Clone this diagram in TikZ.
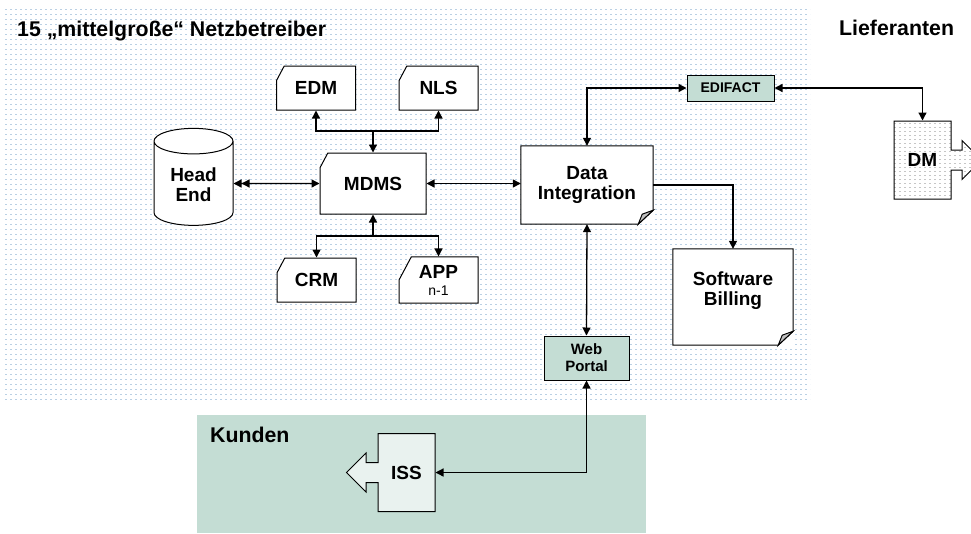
\documentclass[tikz,border=0pt]{standalone}
\usepackage{fontspec}
\setmainfont{Liberation Sans}
\usetikzlibrary{arrows.meta,shapes.geometric,shapes.misc,shapes.arrows}
\definecolor{kundengreen}{RGB}{196,221,212}
\definecolor{issfill}{RGB}{233,242,239}
\definecolor{dotblue}{RGB}{186,208,228}
\definecolor{foldgray}{RGB}{192,192,192}
\tikzset{
  ahead/.tip={Triangle[length=8pt,width=8pt]},
  bgdots/.style={dotblue, line width=0.55pt, dash pattern=on 2pt off 3pt},
  title/.style={anchor=base west, inner sep=0pt, font=\bfseries\fontsize{21.3}{25}\selectfont},
  boxline/.style={draw, line width=1pt},
  appbox/.style={chamfered rectangle, chamfered rectangle corners=north west,
    chamfered rectangle angle=28, chamfered rectangle xsep=15pt, chamfered rectangle ysep=8pt,
    boxline, fill=white, inner sep=0pt, align=center,
    minimum width=79pt, minimum height=44pt, font=\bfseries\fontsize{19}{20}\selectfont},
  cyl/.style={cylinder, shape border rotate=90, aspect=0.55, boxline, fill=white,
    inner sep=0pt, align=center, minimum width=79pt, minimum height=97pt,
    font=\bfseries\fontsize{19}{20}\selectfont},
  docbox/.style={fill=white, inner sep=0pt, align=center,
    font=\bfseries\fontsize{19}{20}\selectfont},
  tagbox/.style={boxline, fill=kundengreen, inner sep=0pt, align=center,
    font=\bfseries\fontsize{15}{17}\selectfont},
  outbox/.style={arrow box, boxline, inner sep=0pt, minimum width=57pt, minimum height=78pt,
    arrow box shaft width=20pt, arrow box head extend=9.5pt, arrow box tip angle=90,
    font=\bfseries\fontsize{19}{20}\selectfont},
  conn/.style={line width=1.3pt}
}
\begin{document}
\begin{tikzpicture}[x=1pt,y=-1pt,>=ahead]
\useasboundingbox (0,0) rectangle (971,533);
%% dotted area and customer area
\foreach \y in {9,14,...,399}
  \draw[bgdots] (5,\y) -- (810,\y);
\fill[kundengreen] (197,415) rectangle (646,533);
\node[title] (tnetz) at (17,36) {15 „mittelgroße“ Netzbetreiber};
\node[title] (tlief) at (839,35) {Lieferanten};
\node[title] (tkunden) at (210,442) {Kunden};
%% systems
\node[cyl] (headend) at (193.5,183.5) {\mbox{}\\[-3pt]Head\\End};
\node[appbox] (edm) at (316,88) {EDM};
\node[appbox] (nls) at (438.5,88) {NLS};
\node[appbox, minimum width=106pt, minimum height=61pt] (mdms) at (373,183.5) {MDMS};
\node[appbox] (crm) at (316.5,280) {CRM};
\node[appbox] (app) at (438.5,280) {APP\\[-3pt]{\mdseries\fontsize{14}{14}\selectfont n-1}};
\node[docbox, minimum width=132pt, minimum height=78pt] (di) at (587,185) {Data\\Integration};
\node[docbox, minimum width=120pt, minimum height=96pt] (billing) at (733,297) {Software\\Billing\\[-4pt]\mbox{}};
\foreach \n in {di,billing} {
  \draw[boxline] (\n.south west) -- (\n.north west) -- (\n.north east)
    -- ([yshift=14pt]\n.south east) -- ([xshift=-15pt]\n.south east) -- cycle;
  \draw[boxline, fill=foldgray] ([yshift=14pt]\n.south east) -- ([xshift=-15pt]\n.south east)
    -- ([xshift=-11pt,yshift=10pt]\n.south east) -- cycle;
}
\node[tagbox, minimum width=87pt, minimum height=26pt, font=\bfseries\fontsize{14}{15}\selectfont] (edifact) at (730.5,88) {EDIFACT};
\node[tagbox, minimum width=85pt, minimum height=44pt] (portal) at (586.5,358) {Web\\Portal};
\node[outbox, fill=white, arrow box arrows={east:30pt},
  path picture={\foreach \k in {0,...,20}
    \draw[bgdots, gray!45] ([yshift=-4*\k pt-2pt]path picture bounding box.north west) -- ++(120,0);}] (dm) at (922.5,160) {DM};
\node[outbox, fill=issfill, arrow box arrows={west:31pt}] (iss) at (406.5,472.5) {ISS};
%% connectors
\coordinate (mdmstop) at (mdms.north |- 0,131);
\draw[conn,<->] (edm.south) |- (mdmstop) -| (nls.south);
\draw[conn,->] (mdmstop) -- (mdms.north);
\coordinate (mdmsbot) at (mdms.south |- 0,236);
\draw[conn,<->] (crm.north) |- (mdmsbot) -| (app.north);
\draw[conn,->] (mdmsbot) -- (mdms.south);
\draw[conn,{ahead[]ahead[]}-ahead] (headend.east) -- (mdms.west);
\draw[conn,<->] (mdms.east) -- (mdms.east -| di.west);
\draw[conn,<->] (di.north) |- (edifact.west);
\draw[conn,<->] (edifact.east) -| (dm.north);
\draw[conn,->] (di.east) -| (billing.north);
\draw[conn,<->] (di.south) -- (portal.north);
\draw[conn,<->] (portal.south) |- (iss.east);
\end{tikzpicture}
\end{document}
